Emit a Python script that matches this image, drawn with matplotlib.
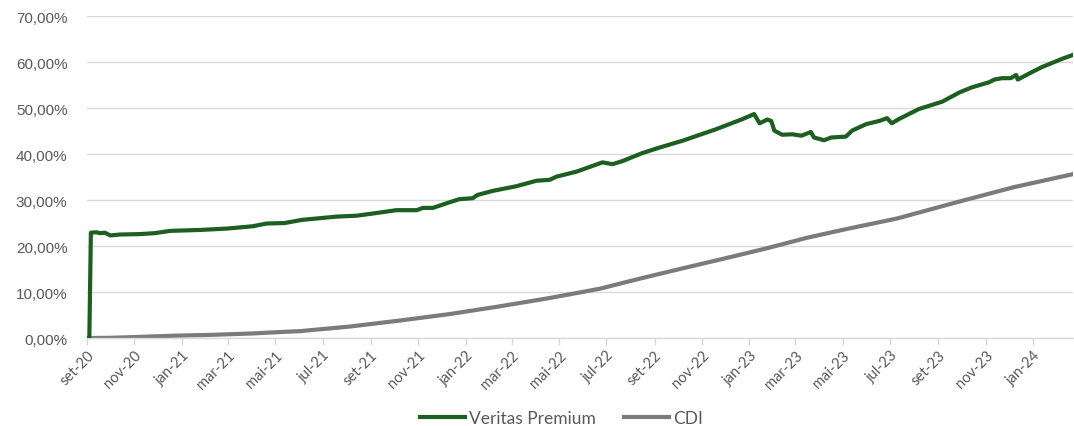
import matplotlib
matplotlib.use("Agg")
import matplotlib.pyplot as plt
import matplotlib.dates as mdates
import matplotlib.ticker as mticker
import pandas as pd

# ---------------- data ----------------
veritas_dates = [
    "2020-09-01", "2020-09-04", "2020-09-06", "2020-09-13", "2020-09-18", "2020-09-24",
    "2020-10-01", "2020-10-13", "2020-11-08", "2020-11-27", "2020-12-17", "2021-01-24",
    "2021-02-28", "2021-04-02", "2021-04-20", "2021-05-13", "2021-06-05", "2021-07-19",
    "2021-08-14", "2021-09-09", "2021-10-04", "2021-10-30", "2021-11-07", "2021-11-20",
    "2021-12-11", "2021-12-24", "2022-01-10", "2022-01-16", "2022-02-05", "2022-03-07",
    "2022-04-02", "2022-04-19", "2022-04-28", "2022-05-24", "2022-06-26", "2022-07-09",
    "2022-07-22", "2022-08-16", "2022-09-07", "2022-10-07", "2022-11-19", "2022-12-23",
    "2023-01-07", "2023-01-14", "2023-01-24", "2023-01-29", "2023-02-02", "2023-02-12",
    "2023-02-25", "2023-03-09", "2023-03-21", "2023-03-25", "2023-04-07", "2023-04-16",
    "2023-05-05", "2023-05-13", "2023-05-31", "2023-06-17", "2023-06-27", "2023-07-03",
    "2023-07-12", "2023-08-07", "2023-08-24", "2023-09-06", "2023-09-28", "2023-10-14",
    "2023-11-05", "2023-11-12", "2023-11-22", "2023-12-03", "2023-12-10", "2023-12-12",
    "2023-12-30", "2024-01-12", "2024-01-25", "2024-02-07", "2024-02-20",
]
veritas_values = [
    0.0, 0.0, 22.9, 23.0, 22.8, 22.9,
    22.3, 22.5, 22.6, 22.8, 23.3, 23.5,
    23.8, 24.3, 24.9, 25.0, 25.7, 26.4,
    26.6, 27.2, 27.8, 27.8, 28.3, 28.3,
    29.5, 30.2, 30.4, 31.1, 32.0, 33.0,
    34.2, 34.4, 35.1, 36.2, 38.2, 37.8,
    38.5, 40.2, 41.4, 42.9, 45.4, 47.6,
    48.7, 46.7, 47.5, 47.2, 45.1, 44.2,
    44.3, 44.0, 44.8, 43.6, 43.0, 43.6,
    43.8, 45.1, 46.5, 47.2, 47.8, 46.7,
    47.6, 49.8, 50.7, 51.4, 53.4, 54.5,
    55.6, 56.2, 56.5, 56.5, 57.2, 56.2,
    57.8, 58.9, 59.8, 60.7, 61.5,
]

cdi_dates = [
    "2020-09-01", "2020-10-01", "2020-10-30", "2020-12-20", "2021-02-10", "2021-04-02",
    "2021-05-07", "2021-06-02", "2021-08-05", "2021-10-08", "2021-12-11", "2022-02-14",
    "2022-04-19", "2022-06-22", "2022-08-15", "2022-10-07", "2022-11-30", "2023-01-23",
    "2023-03-16", "2023-05-03", "2023-07-10", "2023-09-24", "2023-12-07", "2024-02-20",
]
cdi_values = [
    0.0, 0.05, 0.2, 0.5, 0.7, 1.0,
    1.3, 1.5, 2.5, 3.8, 5.2, 6.9,
    8.7, 10.7, 13.0, 15.15, 17.3, 19.5,
    21.8, 23.6, 26.0, 29.5, 32.8, 35.6,
]

series_names = ["Veritas Premium", "CDI"]
month_abbr = {1: "jan", 2: "fev", 3: "mar", 4: "abr", 5: "mai", 6: "jun",
              7: "jul", 8: "ago", 9: "set", 10: "out", 11: "nov", 12: "dez"}

# ---------------- plot ----------------
fig = plt.figure(figsize=(10.74, 4.27), dpi=100)
ax = fig.add_axes([0.081, 0.206, 0.918, 0.754])

vd = pd.to_datetime(veritas_dates)
cd = pd.to_datetime(cdi_dates)
green = "#1d5e21"
gray = "#7b7b7b"

ax.plot(vd, [v / 100 for v in veritas_values], color=green, lw=3.0,
        solid_joinstyle="round", label=series_names[0], zorder=3)
ax.plot(cd, [v / 100 for v in cdi_values], color=gray, lw=3.0,
        solid_joinstyle="round", label=series_names[1], zorder=2)

ax.set_ylim(0, 0.70)
ax.set_xlim(pd.Timestamp("2020-09-01"), pd.Timestamp("2024-02-21"))
ax.yaxis.set_major_locator(mticker.MultipleLocator(0.10))
ax.yaxis.set_major_formatter(
    mticker.FuncFormatter(lambda v, p: f"{v*100:.2f}%".replace(".", ",")))

ax.xaxis.set_major_locator(mdates.MonthLocator(bymonth=[1, 3, 5, 7, 9, 11]))
ax.xaxis.set_major_formatter(mticker.FuncFormatter(
    lambda v, p: f"{month_abbr[mdates.num2date(v).month]}-{mdates.num2date(v).year % 100:02d}"))

ax.grid(axis="y", color="#d9d9d9", lw=1.0)
ax.set_axisbelow(True)
for s in ["left", "right", "top"]:
    ax.spines[s].set_visible(False)
ax.spines["bottom"].set_color("#d9d9d9")
ax.spines["bottom"].set_linewidth(1.0)

ax.tick_params(axis="y", length=0, pad=14, labelsize=11, labelcolor="#595959")
ax.tick_params(axis="x", length=5, color="#d9d9d9", width=1, pad=2,
               labelsize=10.5, labelcolor="#595959")
for lbl in ax.get_yticklabels():
    lbl.set_fontfamily("Liberation Sans")
for lbl in ax.get_xticklabels():
    lbl.set_rotation(45)
    lbl.set_ha("right")
    lbl.set_va("top")
    lbl.set_rotation_mode("anchor")
    lbl.set_fontfamily("Lato")

leg = fig.legend(loc="center", bbox_to_anchor=(0.523, 0.019), ncol=2, frameon=False,
                 handlelength=2.6, columnspacing=1.6, handletextpad=0.25,
                 prop={"family": "Lato", "size": 12.5})
for t in leg.get_texts():
    t.set_color("#595959")

fig.savefig("out.png", dpi=100)
